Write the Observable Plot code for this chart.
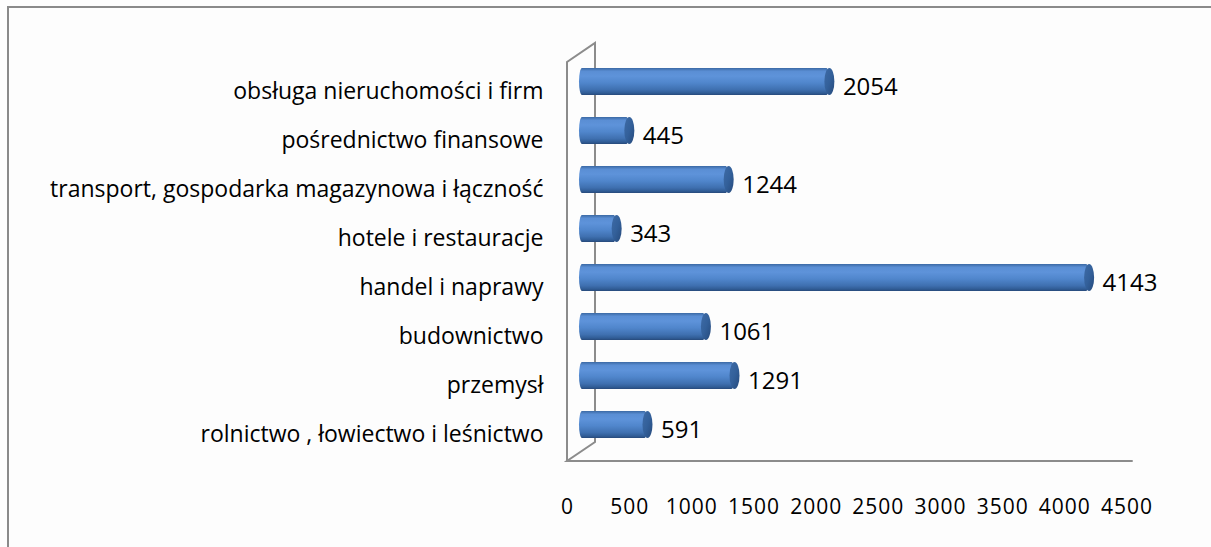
<!DOCTYPE html>
<html><head><meta charset="utf-8">
<script src="https://cdn.jsdelivr.net/npm/d3@7"></script>
<script src="https://cdn.jsdelivr.net/npm/@observablehq/plot@0.6"></script>
<style>
html,body{margin:0;padding:0;background:#fdfdfd;}
#wrap{position:relative;width:1211px;height:547px;overflow:hidden;background:#fdfdfd;}
#border{position:absolute;left:7px;top:6px;width:1400px;height:800px;border:2.5px solid #8a8a8a;box-sizing:border-box;}
#chart{position:absolute;left:0;top:0;}
</style></head><body>
<div id="wrap"><div id="border"></div><div id="chart"></div></div>
<script>
const categories = [
  "obsługa nieruchomości i firm",
  "pośrednictwo finansowe",
  "transport, gospodarka magazynowa i łączność",
  "hotele i restauracje",
  "handel i naprawy",
  "budownictwo",
  "przemysł",
  "rolnictwo , łowiectwo i leśnictwo"
];
const values = [2054, 445, 1244, 343, 4143, 1061, 1291, 591];
const xTicks = [0, 500, 1000, 1500, 2000, 2500, 3000, 3500, 4000, 4500];
const xDomain = [0, 4500];
const floorEnd = 4550;

const data = categories.map((c, i) => ({category: c, value: values[i]}));

// 3D styling
const depthX = 28, depthY = -19;
const barDx = 12, barDy = -8;
const svgNS = "http://www.w3.org/2000/svg";

const wall = (index, scales, values, dimensions) => {
  const x0 = scales.x(0);
  const top = dimensions.marginTop;
  const bottom = dimensions.height - dimensions.marginBottom;
  const xEnd = scales.x(floorEnd);
  const p = document.createElementNS(svgNS, "path");
  p.setAttribute("d",
    `M${x0},${bottom}V${top}l${depthX},${depthY}V${bottom + depthY}L${x0},${bottom}H${xEnd}`);
  p.setAttribute("fill", "none");
  p.setAttribute("stroke", "#8c8c8c");
  p.setAttribute("stroke-width", 2);
  return p;
};

const chart = Plot.plot({
  width: 1211,
  height: 547,
  marginLeft: 567,
  marginRight: 84.5,
  marginTop: 62,
  marginBottom: 86,
  style: {fontFamily: "'Open Sans', sans-serif", fontSize: "20px", color: "#000", background: "transparent"},
  x: {domain: xDomain, axis: null},
  y: {domain: categories, paddingInner: 0.44, paddingOuter: 0.22, axis: null},
  marks: [
    wall,
    Plot.barX(data, {x1: 0, x2: "value", y: "category", insetRight: 5, dx: barDx, dy: barDy, fill: "url(#cyl)", rx: 3, ry: 14}),
    Plot.barX(data, {x1: "value", x2: "value", y: "category", insetLeft: -10, insetRight: 0, dx: barDx, dy: barDy, fill: "url(#cap)", rx: 5, ry: 14}),
    Plot.text(data, {x: "value", y: "category", text: d => String(d.value), textAnchor: "start", dx: barDx + 8, dy: -3, fill: "#000", fontSize: 24}),
    Plot.text(categories, {y: d => d, text: d => d, frameAnchor: "left", textAnchor: "end", dx: -24, dy: 2, fill: "#000", fontSize: 23}),
    Plot.text(xTicks, {x: d => d, text: d => String(d), frameAnchor: "bottom", dy: 52, fill: "#000", fontSize: 21})
  ]
});

const textGroups = d3.select(chart).selectAll('g[aria-label="text"]').nodes();
if (textGroups.length) d3.select(textGroups[textGroups.length - 1]).style("letter-spacing", "1px");

const defs = d3.select(chart).insert("defs", ":first-child");
const g1 = defs.append("linearGradient").attr("id", "cyl").attr("x1", 0).attr("y1", 0).attr("x2", 0).attr("y2", 1);
[[0, "#3b69a4"], [0.12, "#5a8ed4"], [0.3, "#5e93da"], [0.55, "#5086cc"], [0.8, "#3f70b0"], [0.93, "#305c95"], [1, "#27497a"]]
  .forEach(([o, c]) => g1.append("stop").attr("offset", o).attr("stop-color", c));
const g2 = defs.append("linearGradient").attr("id", "cap").attr("x1", 0).attr("y1", 0).attr("x2", 1).attr("y2", 1);
[[0, "#3e6ba6"], [0.5, "#33609a"], [1, "#264a7c"]]
  .forEach(([o, c]) => g2.append("stop").attr("offset", o).attr("stop-color", c));

document.getElementById("chart").appendChild(chart);
</script>
</body></html>
